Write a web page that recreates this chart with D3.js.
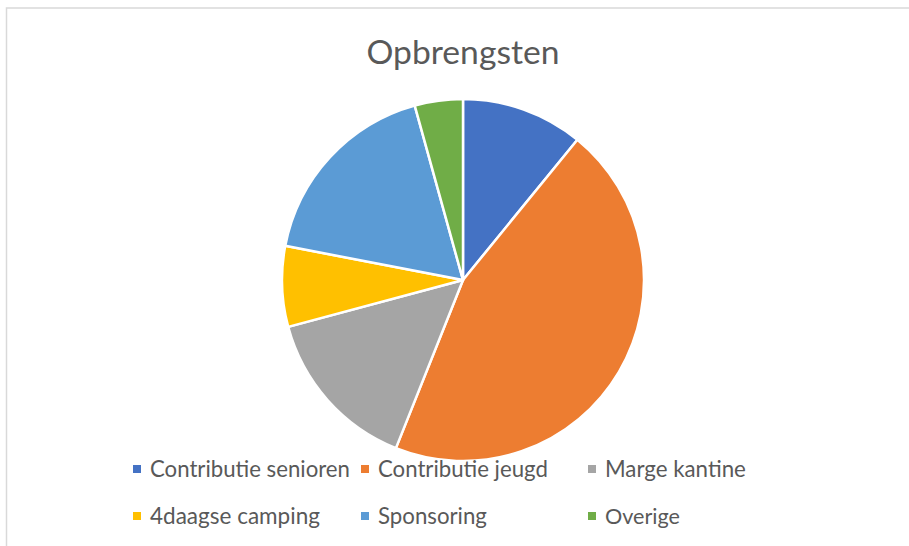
<!DOCTYPE html>
<html>
<head>
<meta charset="utf-8">
<script src="https://cdn.jsdelivr.net/npm/d3@7"></script>
<style>
  body { margin: 0; background: #fff; }
  text { font-family: Lato, "Open Sans", sans-serif; fill: #595959; }
</style>
</head>
<body>
<div id="chart"></div>
<script>
let dim = { width: 909, height: 546 };

// data (share of total, %)
let categories = ["Contributie senioren", "Contributie jeugd", "Marge kantine",
                  "4daagse camping", "Sponsoring", "Overige"];
let values = [10.9, 45.2, 14.8, 7.2, 17.7, 4.3];
let colors = ["#4472C4", "#ED7D31", "#A5A5A5", "#FFC000", "#5B9BD5", "#70AD47"];
let title = "Opbrengsten";

let svg = d3.select('#chart').append('svg')
    .attr('width', dim.width)
    .attr('height', dim.height);

// chart area border
svg.append('rect')
    .attr('x', 6.5).attr('y', 8)
    .attr('width', dim.width + 10).attr('height', dim.height + 10)
    .attr('fill', 'none')
    .attr('stroke', '#d9d9d9')
    .attr('stroke-width', 1.5);

// fit a text element to a target width by adjusting its font size
function fitWidth(sel, target) {
    let node = sel.node();
    let fs = parseFloat(sel.attr('font-size'));
    let w = node.getComputedTextLength();
    sel.attr('font-size', fs * target / w);
}

let t = svg.append('text')
    .attr('x', 463).attr('y', 64)
    .attr('text-anchor', 'middle')
    .attr('font-size', 28)
    .text(title);
fitWidth(t, 193);

let data = categories.map((c, i) => ({ name: c, value: values[i], color: colors[i] }));

let pie = d3.pie().sort(null).value(d => d.value);
let arc = d3.arc().innerRadius(0).outerRadius(181);

let g = svg.append('g').attr('transform', 'translate(463,280)');
g.selectAll('path')
    .data(pie(data))
    .enter()
    .append('path')
    .attr('d', arc)
    .attr('fill', d => d.data.color)
    .attr('stroke', '#fff')
    .attr('stroke-width', 2.5)
    .attr('stroke-linejoin', 'round');

// legend, 3 columns x 2 rows
let colX = [133, 361, 588];
let rowY = [469, 516];
let textW = [200, 170, 141, 170, 109, 75];

let legend = svg.selectAll('.legend')
    .data(data)
    .enter()
    .append('g')
    .attr('class', 'legend')
    .attr('transform', (d, i) => `translate(${colX[i % 3]},${rowY[Math.floor(i / 3)]})`);

legend.append('rect')
    .attr('x', 0).attr('y', -4)
    .attr('width', 8).attr('height', 8)
    .attr('fill', d => d.color);

legend.append('text')
    .attr('x', 17).attr('y', 8)
    .attr('font-size', 18)
    .text(d => d.name)
    .each(function (d, i) { fitWidth(d3.select(this), textW[i]); });
</script>
</body>
</html>
